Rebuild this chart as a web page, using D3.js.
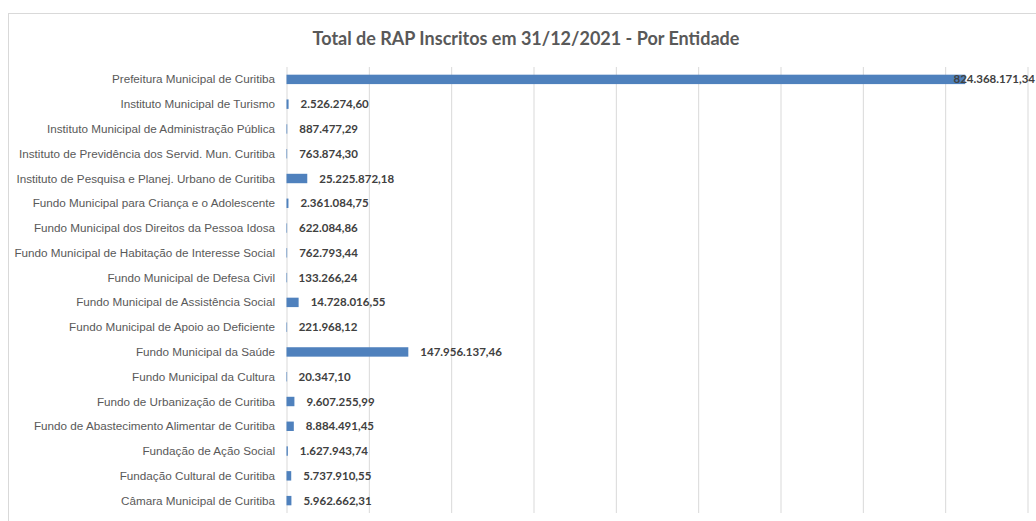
<!DOCTYPE html>
<html>
<head>
<meta charset="utf-8">
<script src="https://cdn.jsdelivr.net/npm/d3@7"></script>
<style>
  html, body { margin: 0; padding: 0; background: #fff; overflow: hidden; }
  svg { display: block; }
</style>
</head>
<body>
<div id="chart"></div>
<script>
// dados do gráfico
const entidades = [
  "Prefeitura Municipal de Curitiba",
  "Instituto Municipal de Turismo",
  "Instituto Municipal de Administração Pública",
  "Instituto de Previdência dos Servid. Mun. Curitiba",
  "Instituto de Pesquisa e Planej. Urbano de Curitiba",
  "Fundo Municipal para Criança e o Adolescente",
  "Fundo Municipal dos Direitos da Pessoa Idosa",
  "Fundo Municipal de Habitação de Interesse Social",
  "Fundo Municipal de Defesa Civil",
  "Fundo Municipal de Assistência Social",
  "Fundo Municipal de Apoio ao Deficiente",
  "Fundo Municipal da Saúde",
  "Fundo Municipal da Cultura",
  "Fundo de Urbanização de Curitiba",
  "Fundo de Abastecimento Alimentar de Curitiba",
  "Fundação de Ação Social",
  "Fundação Cultural de Curitiba",
  "Câmara Municipal de Curitiba"
];
const valores = [
  824368171.34, 2526274.60, 887477.29, 763874.30, 25225872.18, 2361084.75,
  622084.86, 762793.44, 133266.24, 14728016.55, 221968.12, 147956137.46,
  20347.10, 9607255.99, 8884491.45, 1627943.74, 5737910.55, 5962662.31
];
const gridTicks = [0, 1e8, 2e8, 3e8, 4e8, 5e8, 6e8, 7e8, 8e8, 9e8];
const titulo = "Total de RAP Inscritos em 31/12/2021 - Por Entidade";

const width = 1036, height = 521;
const plot = { left: 286.5, right: 1027.5, top: 67, bottom: 513 };

const data = entidades.map((d, i) => ({ nome: d, valor: valores[i] }));

const ptBR = d3.formatLocale({ decimal: ",", thousands: ".", grouping: [3], currency: ["R$", ""] });
const fmt = ptBR.format(",.2f");

const svg = d3.select('#chart').append('svg')
  .attr('width', width)
  .attr('height', height)
  .attr('viewBox', [0, 0, width, height]);

// moldura da área do gráfico
svg.append('rect')
  .attr('x', 8.5).attr('y', 13.5)
  .attr('width', 1100).attr('height', 600)
  .attr('fill', '#fff')
  .attr('stroke', '#d9d9d9');

const x = d3.scaleLinear().domain([0, 9e8]).range([plot.left, plot.right]);
const y = d3.scaleBand().domain(entidades).range([plot.top, plot.bottom]).paddingInner(0.62).paddingOuter(0.31);

// linhas de grade
svg.append('g')
  .attr('transform', `translate(0,${plot.bottom})`)
  .call(d3.axisBottom(x).tickValues(gridTicks).tickSize(plot.bottom - plot.top).tickFormat(''))
  .call(g => g.select('.domain').remove())
  .call(g => g.selectAll('.tick line')
    .attr('y2', -(plot.bottom - plot.top))
    .attr('stroke', '#d9d9d9')
    .attr('stroke-width', 1));

// título
svg.append('text')
  .attr('x', 526)
  .attr('y', 45)
  .attr('text-anchor', 'middle')
  .attr('font-family', 'Lato, "Liberation Sans", sans-serif')
  .attr('font-weight', 'bold')
  .attr('font-size', 18)
  .attr('fill', '#595959')
  .text(titulo);

// barras
svg.append('g')
  .selectAll('rect')
  .data(data)
  .join('rect')
  .attr('x', x(0))
  .attr('y', d => y(d.nome))
  .attr('width', d => Math.max(0.6, x(d.valor) - x(0)))
  .attr('height', y.bandwidth())
  .attr('fill', '#4f81bd');

// rótulos das categorias
svg.append('g')
  .selectAll('text')
  .data(data)
  .join('text')
  .attr('x', 275)
  .attr('y', d => y(d.nome) + y.bandwidth() / 2)
  .attr('dy', '0.35em')
  .attr('text-anchor', 'end')
  .attr('font-family', '"Liberation Sans", Arial, sans-serif')
  .attr('font-size', 11.7)
  .attr('fill', '#595959')
  .text(d => d.nome);

// rótulos de valor
svg.append('g')
  .selectAll('text')
  .data(data)
  .join('text')
  .attr('y', d => y(d.nome) + y.bandwidth() / 2)
  .attr('dy', '0.35em')
  .attr('font-family', 'Lato, "Liberation Sans", sans-serif')
  .attr('font-weight', 'bold')
  .attr('font-size', 11.5)
  .attr('fill', '#404040')
  .text(d => fmt(d.valor))
  .each(function (d) {
    const w = this.getComputedTextLength();
    const px = Math.min(x(d.valor) + 12, width - w - 1);
    d3.select(this).attr('x', px);
  });
</script>
</body>
</html>
